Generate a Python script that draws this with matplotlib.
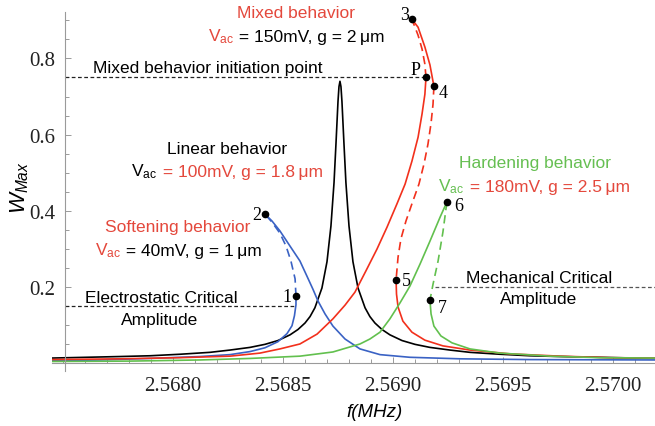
import matplotlib.pyplot as plt
from matplotlib.offsetbox import TextArea, HPacker, AnnotationBbox
from matplotlib.ticker import MultipleLocator

plt.rcParams['font.family'] = 'Liberation Sans'
plt.rcParams['mathtext.fontset'] = 'custom'
plt.rcParams['mathtext.rm'] = 'Liberation Sans'
plt.rcParams['mathtext.it'] = 'Liberation Sans:italic'

# linear behaviour (black)
black_f = [2.567450, 2.567759, 2.567895, 2.568032, 2.568168, 2.568259, 2.568350, 2.568418,
           2.568477, 2.568532, 2.568568, 2.568600, 2.568623, 2.568645,
           2.568677, 2.568700, 2.568718, 2.568732, 2.568741, 2.568750, 2.5687545, 2.568759,
           2.5687635, 2.568768, 2.568777, 2.568786, 2.568800, 2.568818, 2.568841, 2.568873,
           2.568895, 2.568918, 2.568950, 2.568986, 2.569041, 2.569100, 2.569168, 2.569259,
           2.569350, 2.569486, 2.569623, 2.569759, 2.570191]
black_w = [0.013, 0.017, 0.019, 0.023, 0.028, 0.034, 0.041, 0.049,
           0.059, 0.074, 0.088, 0.105, 0.122, 0.145,
           0.197, 0.266, 0.360, 0.474, 0.578, 0.687, 0.726, 0.740,
           0.726, 0.687, 0.578, 0.474, 0.360, 0.266, 0.197, 0.145,
           0.122, 0.105, 0.088, 0.074, 0.059, 0.049, 0.041, 0.034,
           0.028, 0.023, 0.019, 0.017, 0.012]

# softening behaviour (blue)
blue_lo_f = [2.567450, 2.567668, 2.567895, 2.568123, 2.568259, 2.568350, 2.568418, 2.568477,
             2.568518, 2.568541, 2.568552, 2.568559, 2.568559]
blue_lo_w = [0.006, 0.008, 0.012, 0.017, 0.022, 0.030, 0.040, 0.056,
             0.077, 0.098, 0.124, 0.153, 0.176]
blue_un_f = [2.568559, 2.568555, 2.568536, 2.568514, 2.568486, 2.568450, 2.568418]
blue_un_w = [0.176, 0.221, 0.268, 0.307, 0.341, 0.370, 0.391]
blue_hi_f = [2.568418, 2.568450, 2.568486, 2.568532, 2.568577, 2.568609, 2.568636, 2.568659,
             2.568691, 2.568727, 2.568782, 2.568850, 2.568941, 2.569077, 2.569305, 2.569623,
             2.570191]
blue_hi_w = [0.391, 0.373, 0.347, 0.307, 0.268, 0.228, 0.194, 0.163,
             0.129, 0.097, 0.063, 0.037, 0.022, 0.015, 0.011, 0.009,
             0.008]

# mixed behaviour (red)
red_lo_f = [2.567450, 2.567759, 2.568032, 2.568259, 2.568395, 2.568486, 2.568577, 2.568655,
            2.568727, 2.568782, 2.568827, 2.568877, 2.568927, 2.568973, 2.569018, 2.569055,
            2.569086, 2.569114, 2.569132, 2.569145, 2.569150]
red_lo_w = [0.009, 0.011, 0.014, 0.018, 0.026, 0.037, 0.050, 0.076,
            0.116, 0.152, 0.186, 0.242, 0.299, 0.357, 0.418, 0.470,
            0.530, 0.593, 0.654, 0.706, 0.750]
red_un1_f = [2.569150, 2.569145, 2.569132, 2.569114, 2.569086]
red_un1_w = [0.750, 0.785, 0.825, 0.861, 0.903]
red_top_f = [2.569086, 2.569114, 2.569145, 2.569168, 2.569186]
red_top_w = [0.903, 0.882, 0.830, 0.783, 0.727]
red_un2_f = [2.569186, 2.569182, 2.569173, 2.569159, 2.569141, 2.569118, 2.569086, 2.569059,
             2.569036, 2.569023, 2.569014]
red_un2_w = [0.727, 0.680, 0.630, 0.575, 0.523, 0.470, 0.418, 0.373,
             0.326, 0.278, 0.218]
red_hi_f = [2.569014, 2.569016, 2.569023, 2.569045, 2.569086, 2.569145, 2.569227, 2.569350,
            2.569532, 2.569759, 2.569986, 2.570191]
red_hi_w = [0.218, 0.181, 0.147, 0.110, 0.081, 0.060, 0.045, 0.034,
            0.024, 0.018, 0.014, 0.013]

# hardening behaviour (green)
green_lo_f = [2.567450, 2.567805, 2.568123, 2.568350, 2.568577, 2.568727, 2.568850, 2.568895,
              2.568941, 2.568986, 2.569032, 2.569077, 2.569123, 2.569168, 2.569214, 2.569245]
green_lo_w = [0.004, 0.005, 0.008, 0.012, 0.018, 0.029, 0.050, 0.063,
              0.081, 0.116, 0.158, 0.202, 0.260, 0.320, 0.383, 0.423]
green_un_f = [2.569245, 2.569227, 2.569205, 2.569182, 2.569168]
green_un_w = [0.423, 0.344, 0.268, 0.207, 0.165]
green_hi_f = [2.569168, 2.569173, 2.569186, 2.569218, 2.569268, 2.569350, 2.569486, 2.569714,
              2.569941, 2.570191]
green_hi_w = [0.165, 0.129, 0.097, 0.071, 0.053, 0.037, 0.026, 0.018,
              0.014, 0.013]

# marked points
pt_names = ['1', '2', '3', 'P', '4', '5', '6', '7']
pt_f = [2.568559, 2.568418, 2.569086, 2.569150, 2.569186, 2.569014, 2.569245, 2.569168]
pt_w = [0.176, 0.391, 0.903, 0.750, 0.727, 0.218, 0.423, 0.165]
pt_off = [(-3, 0, 'right'), (-2.5, 0, 'right'), (-1.8, 3.6, 'right'), (-4, 5.5, 'right'),
          (3.2, -4.3, 'left'), (4, 0, 'left'), (5.4, -2.9, 'left'), (6, -5, 'left')]

mixed_level = 0.75
electro_level = 0.15
mech_level = 0.2

RED = '#f2301c'
RED_T = '#e4483c'
BLUE = '#3a62c4'
GREEN = '#62c04e'
GREEN_T = '#66bf52'

W, H = 655, 427


def px(x, y):
    return x / W, 1 - y / H


fig = plt.figure(figsize=(6.55, 4.27), dpi=100)
ax = fig.add_axes([52 / W, 55 / H, 603 / W, 359 / H])
ax.set_xlim(2.567450, 2.570191)
ax.set_ylim(-0.021, 0.922)
yaxis_f = 2.567509

for s in ['top', 'right']:
    ax.spines[s].set_visible(False)
ax.spines['left'].set_position(('data', yaxis_f))
ax.spines['bottom'].set_position(('data', 0))
for s in ['left', 'bottom']:
    ax.spines[s].set_color('#9a9a9a')
    ax.spines[s].set_linewidth(0.8)

ax.xaxis.set_major_locator(MultipleLocator(0.0005))
ax.xaxis.set_minor_locator(MultipleLocator(0.0001))
ax.yaxis.set_major_locator(MultipleLocator(0.2))
ax.yaxis.set_minor_locator(MultipleLocator(0.05))
ax.set_xticks([2.5680, 2.5685, 2.5690, 2.5695, 2.5700])
ax.set_xticklabels(['2.5680', '2.5685', '2.5690', '2.5695', '2.5700'])
ax.set_yticks([0.2, 0.4, 0.6, 0.8])
ax.set_yticklabels(['0.2', '0.4', '0.6', '0.8'])
ax.tick_params(which='both', direction='in', color='#9a9a9a', width=0.7)
ax.tick_params(which='major', length=4.3)
ax.tick_params(which='minor', length=2.6)
ax.tick_params(axis='x', pad=9)
ax.tick_params(axis='y', pad=7)
for lab in ax.get_xticklabels() + ax.get_yticklabels():
    lab.set_fontfamily('Liberation Serif')
    lab.set_fontsize(15)
    lab.set_color('#222222')

lw = 1.2
dash = (0, (5, 3))
ax.plot(black_f, black_w, color='black', lw=lw)
ax.plot(blue_lo_f, blue_lo_w, color=BLUE, lw=lw)
ax.plot(blue_un_f, blue_un_w, color=BLUE, lw=lw, ls=dash)
ax.plot(blue_hi_f, blue_hi_w, color=BLUE, lw=lw)
ax.plot(red_lo_f, red_lo_w, color=RED, lw=lw)
ax.plot(red_un1_f, red_un1_w, color=RED, lw=lw, ls=dash)
ax.plot(red_top_f, red_top_w, color=RED, lw=lw)
ax.plot(red_un2_f, red_un2_w, color=RED, lw=lw, ls=dash)
ax.plot(red_hi_f, red_hi_w, color=RED, lw=lw)
ax.plot(green_lo_f, green_lo_w, color=GREEN, lw=lw)
ax.plot(green_un_f, green_un_w, color=GREEN, lw=lw, ls=dash)
ax.plot(green_hi_f, green_hi_w, color=GREEN, lw=lw)

# critical amplitude lines
ref = dict(lw=0.9, ls=(0, (3, 2)))
ax.plot([yaxis_f, pt_f[3]], [mixed_level, mixed_level], color='#222222', **ref)
ax.plot([yaxis_f, pt_f[0]], [electro_level, electro_level], color='#222222', **ref)
ax.plot([2.569191, 2.570191], [mech_level, mech_level], color='#555555', **ref)

ax.plot(pt_f, pt_w, 'o', color='black', ms=4.5, zorder=5)
for name, f, w, (dx, dy, ha) in zip(pt_names, pt_f, pt_w, pt_off):
    ax.annotate(name, (f, w), xytext=(dx, dy), textcoords='offset points',
                ha=ha, va='center', fontsize=13, family='Liberation Serif')

fs = 12.5


def txt(x, y, s, color='black'):
    fig.text(*px(x, y), s, ha='center', va='center', fontsize=fs, color=color)


def vac_line(x, y, c1, rest, c2):
    t1 = TextArea('V$_{\\mathrm{ac}}$', textprops=dict(color=c1, fontsize=fs))
    t2 = TextArea(rest, textprops=dict(color=c2, fontsize=fs))
    box = HPacker(children=[t1, t2], align='baseline', pad=0, sep=0)
    ab = AnnotationBbox(box, px(x, y), xycoords='figure fraction', frameon=False,
                        box_alignment=(0.5, 0.5), annotation_clip=False)
    fig.add_artist(ab)


txt(296, 14, 'Mixed behavior', RED_T)
vac_line(296, 37, RED_T, ' = 150mV, g = 2\u2009μm', 'black')
txt(208, 68, 'Mixed behavior initiation point')
txt(227, 150, 'Linear behavior')
vac_line(227, 172, 'black', ' = 100mV, g = 1.8\u2009μm', RED_T)
txt(178, 228, 'Softening behavior', RED_T)
vac_line(178, 251, RED_T, ' = 40mV, g = 1\u2009μm', 'black')
txt(161, 299, 'Electrostatic Critical')
txt(160, 320, 'Amplitude')
txt(535, 164, 'Hardening behavior', GREEN_T)
vac_line(534, 187, GREEN_T, ' = 180mV, g = 2.5\u2009μm', RED_T)
txt(539, 279, 'Mechanical Critical')
txt(539, 300, 'Amplitude')

fig.text(*px(375, 413), 'f(MHz)', ha='center', va='center', fontsize=13.5, style='italic')
fig.text(*px(20, 188), '$\\mathit{W}_{\\mathit{Max}}$', ha='center', va='center',
         fontsize=16, rotation=90)

fig.savefig('out.png', dpi=100)
